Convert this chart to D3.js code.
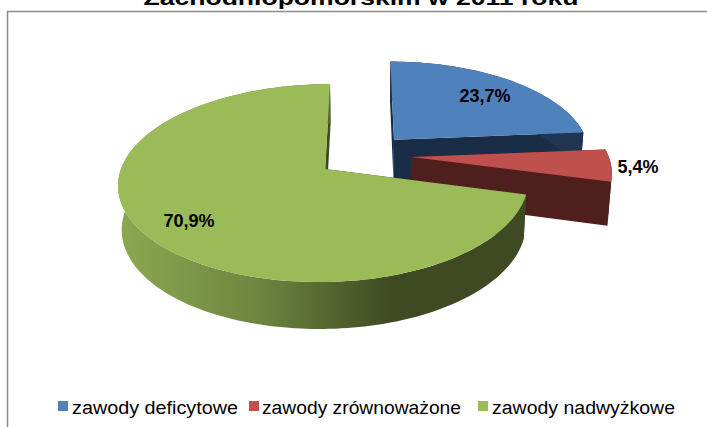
<!DOCTYPE html>
<html>
<head>
<meta charset="utf-8">
<script src="https://cdnjs.cloudflare.com/ajax/libs/d3/7.8.5/d3.min.js"></script>
<style>
  html, body { margin: 0; padding: 0; background: #fff; overflow: hidden; }
  text { font-family: "Liberation Sans", Arial, sans-serif; fill: #000; }
</style>
</head>
<body>
<div id="chart"></div>
<script>
const titleText = "Zachodniopomorskim w 2011 roku";
const categories = ["zawody deficytowe", "zawody zrównoważone", "zawody nadwyżkowe"];
const shares = [23.7, 5.4, 70.9];
const shareLabels = ["23,7%", "5,4%", "70,9%"];

const topColors = ["#4f81bd", "#c0504d", "#9bbb59"];
const wallColors = ["#1f3552", "#4f1f1e", "url(#greenWall)"];
const edgeColors = ["#1a2d47", "#4f1f1e", "#3f4a22"];

const width = 707;
const height = 427;
const explodeBySlice = [0.23, 0.24, 0.24];
const depth = 43;

const svg = d3.select("#chart").append("svg")
  .attr("width", width)
  .attr("height", height)
  .style("display", "block");

const defs = svg.append("defs");
const grad = defs.append("linearGradient")
  .attr("id", "greenWall")
  .attr("gradientUnits", "userSpaceOnUse")
  .attr("x1", 120).attr("x2", 392).attr("y1", 0).attr("y2", 0);
grad.append("stop").attr("offset", 0).attr("stop-color", "#8ba851");
grad.append("stop").attr("offset", 0.5).attr("stop-color", "#6f8640");
grad.append("stop").attr("offset", 1).attr("stop-color", "#3f4a22");

// frame runs off the right and bottom edge in the original
svg.append("path")
  .attr("d", `M${width},11.5H7.5V${height}`)
  .attr("fill", "none")
  .attr("stroke", "#8c8c8c")
  .attr("stroke-width", 1.5);

// the title is cut by the top of the picture in the original too
svg.append("text")
  .attr("x", 361)
  .attr("y", 5)
  .attr("text-anchor", "middle")
  .attr("font-size", 20)
  .attr("font-weight", "bold")
  .attr("textLength", 435)
  .attr("lengthAdjust", "spacingAndGlyphs")
  .text(titleText);

// unit disc -> screen, cheap perspective so the near side comes out bigger
const xScale = d3.scaleLinear().domain([-1, 0, 1]).range([364 - 200, 364, 364 + 197]);
const yScale = d3.scaleLinear().domain([-1, 1]).range([155 - 93, 155 + 93]);
const persp = 0.14;

function project(u, v, low) {
  const d = 1 - persp * v;
  const shrink = low ? 0.985 : 1;
  const x = 364 + (xScale(u / d) - 364) * shrink;
  const y = yScale(v / d) + (low ? depth * (1 + 0.08 * v) : 0);
  return [x, y];
}

const pie = d3.pie().sort(null).value((d) => d);
const slices = pie(shares);
const line = d3.line();

slices.forEach((s, i) => {
  const mid = (s.startAngle + s.endAngle) / 2;
  const cu = Math.sin(mid) * explodeBySlice[i];
  const cv = -Math.cos(mid) * explodeBySlice[i];
  const n = Math.ceil((s.endAngle - s.startAngle) * 40);
  const rim = d3.range(n + 1).map((k) => {
    const a = s.startAngle + (s.endAngle - s.startAngle) * k / n;
    return [cu + Math.sin(a), cv - Math.cos(a)];
  });
  const topRim = rim.map((p) => project(p[0], p[1], false));
  const lowRim = rim.map((p) => project(p[0], p[1], true));
  const apexTop = project(cu, cv, false);
  const apexLow = project(cu, cv, true);

  const g = svg.append("g").attr("class", "slice");

  // cut faces of the wedge, then the outer wall, then the lid
  g.append("path")
    .attr("d", line([apexTop, topRim[0], lowRim[0], apexLow]) + "Z")
    .attr("fill", edgeColors[i]);
  g.append("path")
    .attr("d", line([apexTop, topRim[n], lowRim[n], apexLow]) + "Z")
    .attr("fill", edgeColors[i]);
  g.append("path")
    .attr("d", line(topRim.concat(lowRim.slice().reverse())) + "Z")
    .attr("fill", wallColors[i]);
  g.append("path")
    .attr("d", line([apexTop].concat(topRim)) + "Z")
    .attr("fill", topColors[i]);
});

const labelX = [485, 638, 189];
const labelY = [102, 173, 227];
svg.selectAll("text.share")
  .data(shareLabels)
  .join("text")
  .attr("class", "share")
  .attr("x", (d, i) => labelX[i])
  .attr("y", (d, i) => labelY[i])
  .attr("text-anchor", "middle")
  .attr("font-size", 18)
  .attr("font-weight", "bold")
  .text((d) => d);

// legend
const legendMarkX = [58, 249, 478];
const legendTextX = [72, 262, 492];
const legendTextW = [166, 199, 183];
const legend = svg.selectAll("g.legend")
  .data(categories)
  .join("g")
  .attr("class", "legend");
legend.append("rect")
  .attr("x", (d, i) => legendMarkX[i])
  .attr("y", 401)
  .attr("width", 10)
  .attr("height", 10)
  .attr("fill", (d, i) => topColors[i]);
legend.append("text")
  .attr("x", (d, i) => legendTextX[i])
  .attr("y", 414)
  .attr("font-size", 18)
  .attr("textLength", (d, i) => legendTextW[i])
  .attr("lengthAdjust", "spacingAndGlyphs")
  .text((d) => d);
</script>
</body>
</html>
